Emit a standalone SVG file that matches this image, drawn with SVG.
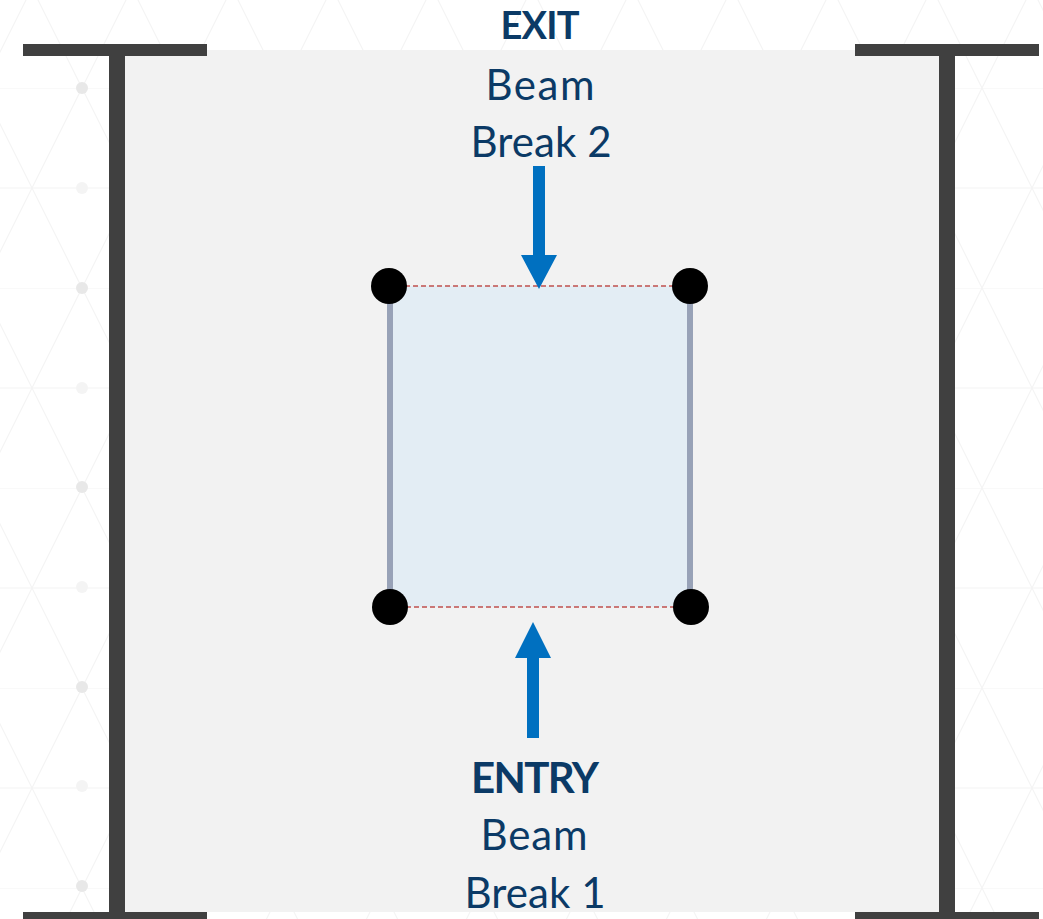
<svg xmlns="http://www.w3.org/2000/svg" width="1043" height="919" viewBox="0 0 1043 919">
  <style>
    .post { fill: #404040; }
    .lbl { font-family: Lato, "Open Sans", "Liberation Sans", sans-serif; fill: #0b3a66; text-anchor: middle; }
    .bold { font-weight: 700; }
    .beam { stroke: #c0504d; stroke-width: 1.6; stroke-dasharray: 5 3; fill: none; }
    .side { stroke: #98a2b7; stroke-width: 6; }
    .sensor { fill: #000000; }
    .arrow { fill: #0070c0; }
    .lat { stroke: #f4f4f4; stroke-width: 1.2; fill: none; }
  </style>
  <defs>
    <pattern id="lattice" x="0" y="88" width="100" height="200" patternUnits="userSpaceOnUse">
      <path class="lat" d="M82,0 L-18,200 M182,0 L82,200 M82,0 L182,200 M-18,0 L82,200 M0,0 H100 M0,100 H100"/>
    </pattern>
  </defs>

  <!-- backdrop -->
  <rect x="0" y="0" width="1043" height="919" fill="#ffffff"/>
  <rect x="0" y="0" width="1043" height="919" fill="url(#lattice)"/>
  <g id="backdrop-dots" fill="#e8e8e8">
    <circle cx="82" cy="88" r="6"/>
    <circle cx="82" cy="288" r="6"/>
    <circle cx="82" cy="487" r="6"/>
    <circle cx="82" cy="687" r="6"/>
    <circle cx="82" cy="886" r="6"/>
    <g fill="#f4f4f4">
      <circle cx="82" cy="188" r="6"/>
      <circle cx="82" cy="388" r="6"/>
      <circle cx="82" cy="587" r="6"/>
      <circle cx="82" cy="786" r="6"/>
    </g>
  </g>

  <!-- corridor floor -->
  <rect id="corridor" x="125" y="50" width="814" height="862" fill="#f2f2f2"/>

  <!-- walls -->
  <g id="left-wall">
    <rect class="post" x="23" y="44" width="184" height="12"/>
    <rect class="post" x="109" y="44" width="16" height="875"/>
    <rect class="post" x="23" y="912" width="184" height="7"/>
  </g>
  <g id="right-wall">
    <rect class="post" x="855" y="44" width="184" height="12"/>
    <rect class="post" x="939" y="44" width="16" height="875"/>
    <rect class="post" x="855" y="912" width="184" height="7"/>
  </g>

  <!-- detection zone -->
  <g id="zone">
    <rect x="390" y="286" width="300" height="321" fill="#e3edf4"/>
    <line class="side" x1="390" y1="286" x2="390" y2="607"/>
    <line class="side" x1="690" y1="286" x2="690" y2="607"/>
  </g>

  <g id="connectors">
    <line id="beam-2" class="beam" x1="389" y1="286" x2="690" y2="286"/>
    <line id="beam-1" class="beam" x1="390" y1="607" x2="691" y2="607"/>
    <polygon id="exit-arrow" class="arrow" points="533,166 545,166 545,255 557,255 539,289 521,255 533,255"/>
    <polygon id="entry-arrow" class="arrow" points="533,622 551,658 539,658 539,738 527,738 527,658 515,658"/>
  </g>

  <g id="sensor-tl"><circle class="sensor" cx="389" cy="286" r="18"/></g>
  <g id="sensor-tr"><circle class="sensor" cx="690" cy="286" r="18"/></g>
  <g id="sensor-bl"><circle class="sensor" cx="390" cy="607" r="18"/></g>
  <g id="sensor-br"><circle class="sensor" cx="691" cy="607" r="18"/></g>

  <g id="exit-label">
    <text class="lbl bold" x="540" y="39" font-size="38" textLength="79">EXIT</text>
    <text class="lbl" x="540" y="100" font-size="42" textLength="109">Beam</text>
    <text class="lbl" x="541" y="157" font-size="42" textLength="141">Break 2</text>
  </g>
  <g id="entry-label">
    <text class="lbl bold" x="535" y="793" font-size="42" textLength="128">ENTRY</text>
    <text class="lbl" x="534" y="850" font-size="42" textLength="107">Beam</text>
    <text class="lbl" x="535" y="908" font-size="42" textLength="141">Break 1</text>
  </g>
</svg>
